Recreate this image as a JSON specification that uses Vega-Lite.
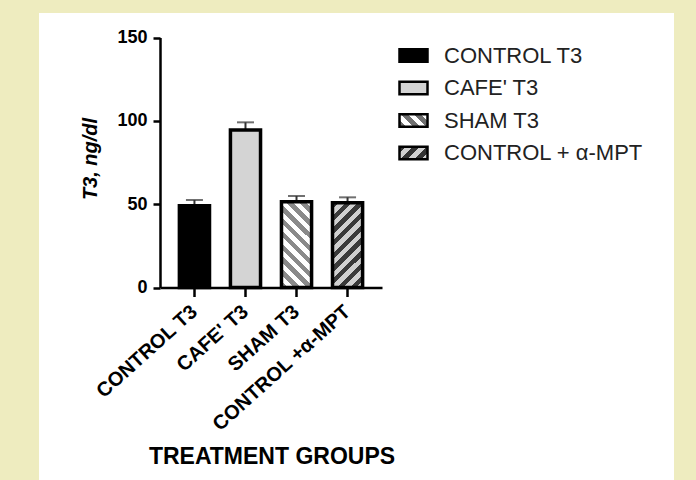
{
  "$schema": "https://vega.github.io/schema/vega-lite/v6.json",
  "width": 635,
  "height": 467,
  "autosize": {"type": "none"},
  "padding": {"left": 39, "top": 13, "right": 22, "bottom": 0},
  "background": "#eeecbf",
  "config": {
    "view": {"fill": "white", "stroke": null},
    "font": "Liberation Sans"
  },
  "data": {
    "values": [
      {"group": "CONTROL T3", "series": "CONTROL T3", "mean": 49, "sem": 3.5},
      {"group": "CAFE' T3", "series": "CAFE' T3", "mean": 94.5, "sem": 4.6},
      {"group": "SHAM T3", "series": "SHAM T3", "mean": 51.4, "sem": 3.5},
      {"group": "CONTROL +α-MPT", "series": "CONTROL + α-MPT", "mean": 50.8, "sem": 3.3}
    ]
  },
  "encoding": {
    "x": {
      "field": "group",
      "type": "nominal",
      "sort": ["CONTROL T3", "CAFE' T3", "SHAM T3", "CONTROL +α-MPT"],
      "scale": {"range": [121, 343], "paddingInner": 0.41, "paddingOuter": 0.38},
      "axis": {
        "title": "TREATMENT GROUPS",
        "offset": -192.5,
        "labelAngle": -42,
        "labelAlign": "right",
        "labelBaseline": "middle",
        "labelFont": "Liberation Sans",
        "labelFontSize": 20,
        "labelFontWeight": "bold",
        "labelColor": "black",
        "labelPadding": 12,
        "labelLimit": 0,
        "tickSize": 9,
        "tickWidth": 2.5,
        "tickColor": "black",
        "domainColor": "black",
        "domainWidth": 2.5,
        "titleFont": "Liberation Sans",
        "titleFontSize": 23,
        "titleFontWeight": "bold",
        "titleColor": "black",
        "titleX": 232.5,
        "titleY": 168.5,
        "titleAlign": "center",
        "titleBaseline": "middle"
      }
    },
    "y": {
      "field": "mean",
      "type": "quantitative",
      "scale": {"domain": [0, 150], "range": [274.5, 24.5], "nice": false},
      "axis": {
        "title": "T3, ng/dl",
        "values": [0, 50, 100, 150],
        "offset": -121,
        "grid": false,
        "domainColor": "black",
        "domainWidth": 2.5,
        "tickColor": "black",
        "tickWidth": 2.5,
        "tickSize": 7,
        "labelFont": "Liberation Sans",
        "labelFontSize": 18,
        "labelFontWeight": "bold",
        "labelColor": "black",
        "labelPadding": 6,
        "titleFont": "Liberation Sans",
        "titleFontSize": 20,
        "titleFontWeight": "bold",
        "titleFontStyle": "italic",
        "titleColor": "black",
        "titleAngle": -90,
        "titleX": -70,
        "titleY": 145.5,
        "titleAlign": "center",
        "titleBaseline": "middle"
      }
    }
  },
  "layer": [
    {
      "mark": {
        "type": "errorbar",
        "ticks": {"size": 17, "thickness": 2, "color": "#333333"},
        "rule": {"strokeWidth": 2, "color": "#333333"}
      },
      "encoding": {"yError": {"field": "sem"}}
    },
    {
      "mark": {"type": "bar", "stroke": "black", "strokeWidth": 3.5},
      "encoding": {
        "fill": {
          "condition": [
            {
              "test": "datum.series === 'SHAM T3'",
              "value": {
                "gradient": "linear",
                "x1": 0, "y1": 1, "x2": 0.42, "y2": -0.2,
                "stops": [
                  {"offset": 0, "color": "#8a8a8a"}, {"offset": 0.0556, "color": "#8a8a8a"},
                  {"offset": 0.0556, "color": "#ffffff"}, {"offset": 0.1111, "color": "#ffffff"},
                  {"offset": 0.1111, "color": "#8a8a8a"}, {"offset": 0.1667, "color": "#8a8a8a"},
                  {"offset": 0.1667, "color": "#ffffff"}, {"offset": 0.2222, "color": "#ffffff"},
                  {"offset": 0.2222, "color": "#8a8a8a"}, {"offset": 0.2778, "color": "#8a8a8a"},
                  {"offset": 0.2778, "color": "#ffffff"}, {"offset": 0.3333, "color": "#ffffff"},
                  {"offset": 0.3333, "color": "#8a8a8a"}, {"offset": 0.3889, "color": "#8a8a8a"},
                  {"offset": 0.3889, "color": "#ffffff"}, {"offset": 0.4444, "color": "#ffffff"},
                  {"offset": 0.4444, "color": "#8a8a8a"}, {"offset": 0.5, "color": "#8a8a8a"},
                  {"offset": 0.5, "color": "#ffffff"}, {"offset": 0.5556, "color": "#ffffff"},
                  {"offset": 0.5556, "color": "#8a8a8a"}, {"offset": 0.6111, "color": "#8a8a8a"},
                  {"offset": 0.6111, "color": "#ffffff"}, {"offset": 0.6667, "color": "#ffffff"},
                  {"offset": 0.6667, "color": "#8a8a8a"}, {"offset": 0.7222, "color": "#8a8a8a"},
                  {"offset": 0.7222, "color": "#ffffff"}, {"offset": 0.7778, "color": "#ffffff"},
                  {"offset": 0.7778, "color": "#8a8a8a"}, {"offset": 0.8333, "color": "#8a8a8a"},
                  {"offset": 0.8333, "color": "#ffffff"}, {"offset": 0.8889, "color": "#ffffff"},
                  {"offset": 0.8889, "color": "#8a8a8a"}, {"offset": 0.9444, "color": "#8a8a8a"},
                  {"offset": 0.9444, "color": "#ffffff"}, {"offset": 1, "color": "#ffffff"}
                ]
              }
            },
            {
              "test": "datum.series === 'CONTROL + α-MPT'",
              "value": {
                "gradient": "linear",
                "x1": 0, "y1": 0, "x2": 0.425, "y2": 1.2,
                "stops": [
                  {"offset": 0, "color": "#3a3a3a"}, {"offset": 0.0556, "color": "#3a3a3a"},
                  {"offset": 0.0556, "color": "#d0d0d0"}, {"offset": 0.1111, "color": "#d0d0d0"},
                  {"offset": 0.1111, "color": "#3a3a3a"}, {"offset": 0.1667, "color": "#3a3a3a"},
                  {"offset": 0.1667, "color": "#d0d0d0"}, {"offset": 0.2222, "color": "#d0d0d0"},
                  {"offset": 0.2222, "color": "#3a3a3a"}, {"offset": 0.2778, "color": "#3a3a3a"},
                  {"offset": 0.2778, "color": "#d0d0d0"}, {"offset": 0.3333, "color": "#d0d0d0"},
                  {"offset": 0.3333, "color": "#3a3a3a"}, {"offset": 0.3889, "color": "#3a3a3a"},
                  {"offset": 0.3889, "color": "#d0d0d0"}, {"offset": 0.4444, "color": "#d0d0d0"},
                  {"offset": 0.4444, "color": "#3a3a3a"}, {"offset": 0.5, "color": "#3a3a3a"},
                  {"offset": 0.5, "color": "#d0d0d0"}, {"offset": 0.5556, "color": "#d0d0d0"},
                  {"offset": 0.5556, "color": "#3a3a3a"}, {"offset": 0.6111, "color": "#3a3a3a"},
                  {"offset": 0.6111, "color": "#d0d0d0"}, {"offset": 0.6667, "color": "#d0d0d0"},
                  {"offset": 0.6667, "color": "#3a3a3a"}, {"offset": 0.7222, "color": "#3a3a3a"},
                  {"offset": 0.7222, "color": "#d0d0d0"}, {"offset": 0.7778, "color": "#d0d0d0"},
                  {"offset": 0.7778, "color": "#3a3a3a"}, {"offset": 0.8333, "color": "#3a3a3a"},
                  {"offset": 0.8333, "color": "#d0d0d0"}, {"offset": 0.8889, "color": "#d0d0d0"},
                  {"offset": 0.8889, "color": "#3a3a3a"}, {"offset": 0.9444, "color": "#3a3a3a"},
                  {"offset": 0.9444, "color": "#d0d0d0"}, {"offset": 1, "color": "#d0d0d0"}
                ]
              }
            }
          ],
          "field": "series",
          "type": "nominal",
          "scale": {
            "domain": ["CONTROL T3", "CAFE' T3", "SHAM T3", "CONTROL + α-MPT"],
            "range": [
              "#000000",
              "#d4d4d4",
              {"expr": "{gradient: 'linear', x1: 0, y1: 1, x2: 1.206, y2: 0.457, stops: [{offset: 0, color: '#707070'}, {offset: 0.1667, color: '#707070'}, {offset: 0.1667, color: '#ffffff'}, {offset: 0.3333, color: '#ffffff'}, {offset: 0.3333, color: '#707070'}, {offset: 0.5, color: '#707070'}, {offset: 0.5, color: '#ffffff'}, {offset: 0.6667, color: '#ffffff'}, {offset: 0.6667, color: '#707070'}, {offset: 0.8333, color: '#707070'}, {offset: 0.8333, color: '#ffffff'}, {offset: 1, color: '#ffffff'}]}"},
              {"expr": "{gradient: 'linear', x1: 0, y1: 0, x2: 1.206, y2: 0.543, stops: [{offset: 0, color: '#333333'}, {offset: 0.1667, color: '#333333'}, {offset: 0.1667, color: '#d0d0d0'}, {offset: 0.3333, color: '#d0d0d0'}, {offset: 0.3333, color: '#333333'}, {offset: 0.5, color: '#333333'}, {offset: 0.5, color: '#d0d0d0'}, {offset: 0.6667, color: '#d0d0d0'}, {offset: 0.6667, color: '#333333'}, {offset: 0.8333, color: '#333333'}, {offset: 0.8333, color: '#d0d0d0'}, {offset: 1, color: '#d0d0d0'}]}"}
            ]
          },
          "legend": {
            "title": null,
            "orient": "none",
            "legendX": 359,
            "legendY": 27,
            "symbolType": "M-1,-0.45H1V0.45H-1Z",
            "symbolSize": 784,
            "symbolStrokeColor": "black",
            "symbolStrokeWidth": 2.5,
            "labelFont": "Liberation Sans",
            "labelFontSize": 22,
            "labelColor": "#222222",
            "labelOffset": 15,
            "rowPadding": 5.5,
            "labelLimit": 0
          }
        }
      }
    }
  ]
}
